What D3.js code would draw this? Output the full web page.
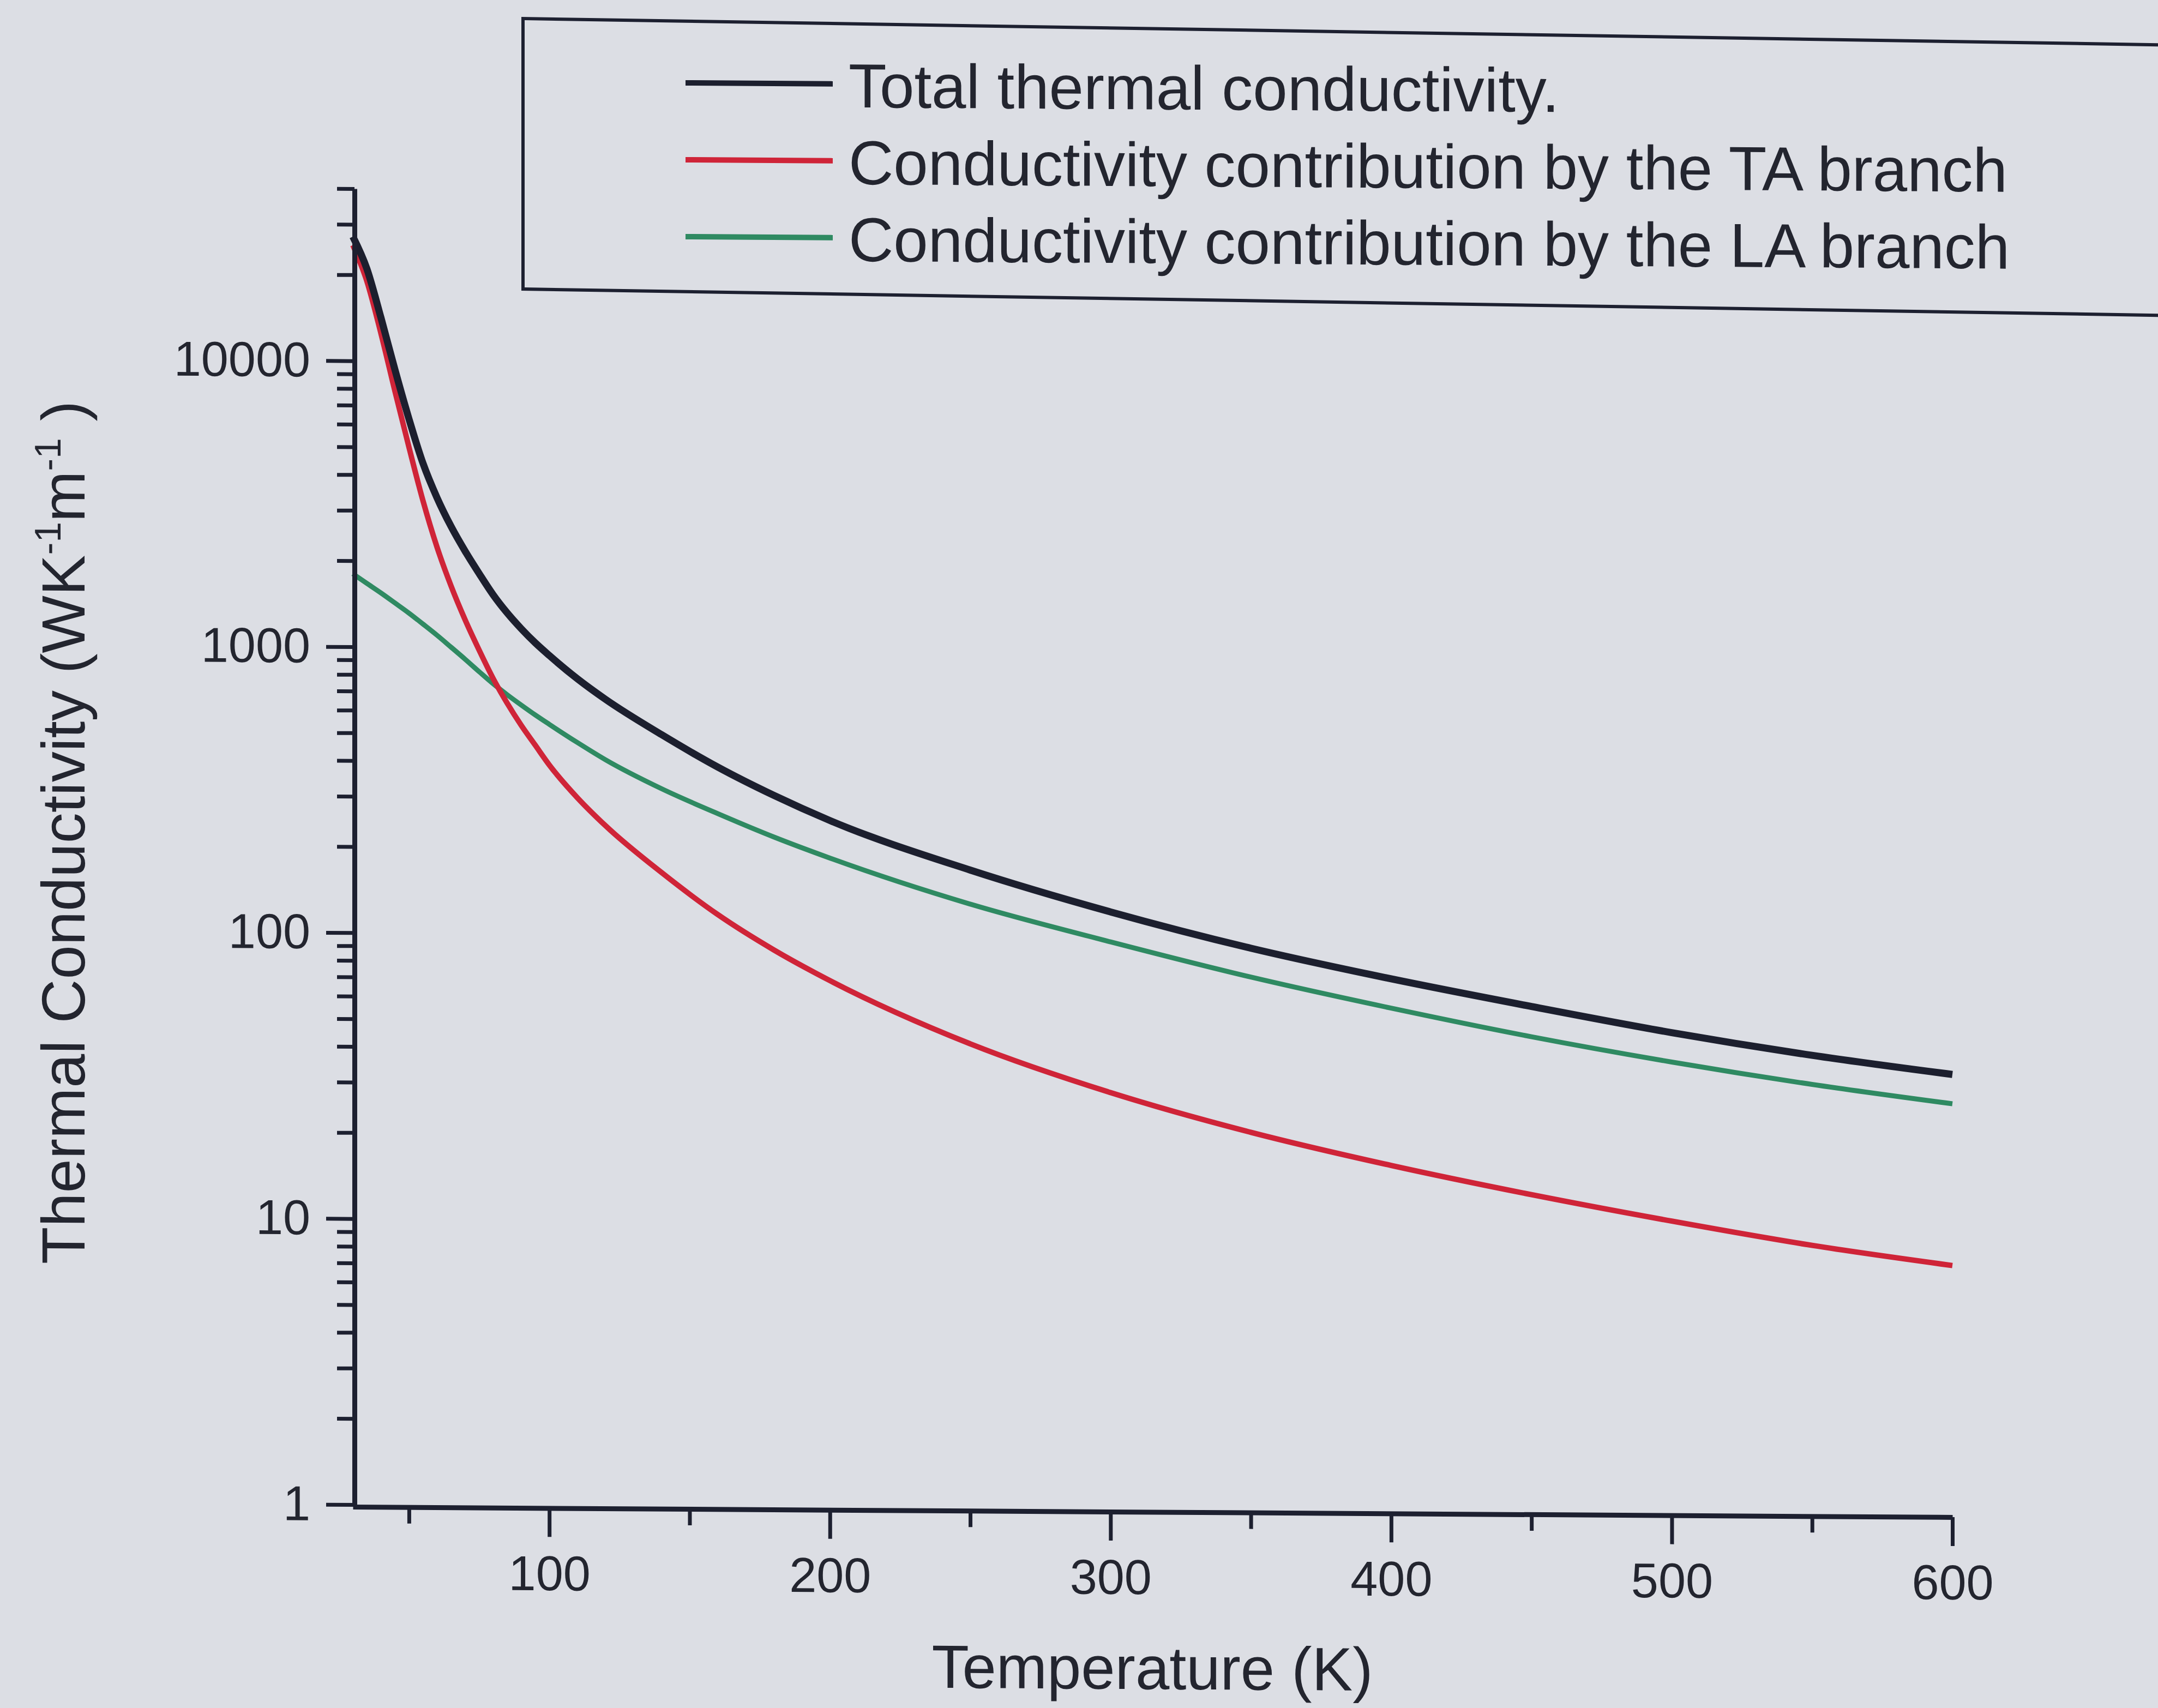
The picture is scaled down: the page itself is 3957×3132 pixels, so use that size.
<!DOCTYPE html>
<html>
<head>
<meta charset="utf-8">
<script src="https://cdnjs.cloudflare.com/ajax/libs/d3/7.8.5/d3.min.js"></script>
<style>
  html, body { margin: 0; padding: 0; background: #dcdee4; }
  svg { display: block; font-family: "Liberation Sans", Arial, sans-serif; }
</style>
</head>
<body>
<div id="chart"></div>
<script>
// values (K, W K^-1 m^-1)
const temperature = [30, 35, 40, 45, 50, 55, 60, 65, 70, 75, 80, 85, 90, 95, 100, 110, 120, 140, 160, 180, 200, 250, 300, 350, 400, 450, 500, 550, 600];
const totalK = [27200, 21000, 14190, 9330, 6280, 4395, 3334, 2649, 2173, 1816, 1531, 1324, 1167, 1042, 942, 782, 664, 501, 387, 309, 253, 171, 123, 92.5, 72.8, 58.7, 47.9, 40.2, 34.7];
const taK = [25400, 19000, 12500, 7850, 5000, 3250, 2240, 1640, 1250, 980, 780, 640, 536, 457, 390, 300, 240, 165, 118, 89, 69.7, 42.2, 28.7, 21.0, 16.2, 12.9, 10.5, 8.7, 7.45];
const laK = [1800, 1667, 1545, 1426, 1315, 1205, 1102, 1002, 910, 824, 748, 685, 631, 583, 541, 468, 408, 324, 266, 221, 187, 130, 96.6, 73.3, 57.5, 46.0, 37.8, 31.8, 27.4];

const xMajorTicks = [100, 200, 300, 400, 500, 600];
const xMinorTicks = [50, 150, 250, 350, 450, 550];
const yMajorTicks = [1, 10, 100, 1000, 10000];

const seriesNames = ['Total thermal conductivity.', 'Conductivity contribution by the TA branch', 'Conductivity contribution by the LA branch'];
const seriesValues = [totalK, taK, laK];
const seriesColors = ['#1c1f2e', '#cf2438', '#2f8a62'];
const seriesWidths = [13, 10, 9];

const W = 3957, H = 3132;
const axisColor = '#1d2030';
const textColor = '#23252f';

const x = d3.scaleLinear().domain([30, 600]).range([647, 3580]);
const y = d3.scaleLog().domain([1, 40000]).range([2759, 346]);

const svg = d3.select('#chart').append('svg')
    .attr('width', W)
    .attr('height', H);

svg.append('rect').attr('width', W).attr('height', H).attr('fill', '#dcdee4');

// the photographed page is a little tilted
const root = svg.append('g')
    .attr('transform', 'translate(647,0) skewY(0.37) translate(-647,0)');

// curves
const line = d3.line()
    .x(d => x(d.t))
    .y(d => y(d.v))
    .curve(d3.curveMonotoneX);

// draw LA, TA, then total on top
[2, 1, 0].forEach(i => {
    const pts = temperature.map((t, j) => ({ t: t, v: seriesValues[i][j] }));
    root.append('path')
        .datum(pts)
        .attr('d', line)
        .attr('fill', 'none')
        .attr('stroke', seriesColors[i])
        .attr('stroke-width', seriesWidths[i])
        .attr('stroke-linejoin', 'round');
});

// y axis
const yMinor = y.ticks().filter(v => !yMajorTicks.includes(v));

root.append('g')
    .attr('transform', 'translate(650,0)')
    .call(d3.axisLeft(y).tickValues(yMinor).tickSize(32).tickSizeOuter(0).tickFormat(''))
    .call(g => g.select('.domain').remove());

const yAxis = root.append('g')
    .attr('transform', 'translate(650,0)')
    .call(d3.axisLeft(y).tickValues(yMajorTicks).tickSize(52).tickSizeOuter(0)
        .tickPadding(29).tickFormat(d3.format('d')));

// x axis
root.append('g')
    .attr('transform', 'translate(0,2763)')
    .call(d3.axisBottom(x).tickValues(xMinorTicks).tickSize(30).tickSizeOuter(0).tickFormat(''))
    .call(g => g.select('.domain').remove());

const xAxis = root.append('g')
    .attr('transform', 'translate(0,2763)')
    .call(d3.axisBottom(x).tickValues(xMajorTicks).tickSize(53).tickSizeOuter(0).tickPadding(34));

root.selectAll('.tick line').attr('stroke', axisColor).attr('stroke-width', 7);
[xAxis, yAxis].forEach(a => {
    a.select('.domain').attr('stroke', axisColor).attr('stroke-width', 9);
    a.selectAll('text')
        .attr('font-size', 90)
        .attr('fill', textColor)
        .attr('font-family', '"Liberation Sans", Arial, sans-serif');
});

// axis titles
root.append('text')
    .attr('x', 2113)
    .attr('y', 3088)
    .attr('text-anchor', 'middle')
    .attr('font-size', 112)
    .attr('fill', textColor)
    .text('Temperature (K)');

const yTitle = root.append('text')
    .attr('transform', 'translate(155,1530) rotate(-90)')
    .attr('text-anchor', 'middle')
    .attr('font-size', 112)
    .attr('fill', textColor);
yTitle.append('tspan').text('Thermal Conductivity (WK');
yTitle.append('tspan').attr('font-size', 68).attr('dy', -44).text('-1');
yTitle.append('tspan').attr('dy', 44).text('m');
yTitle.append('tspan').attr('font-size', 68).attr('dy', -44).text('-1');
yTitle.append('tspan').attr('dy', 44).text(' )');

// legend
const legendBox = root.append('g')
    .attr('transform', 'translate(959,0) skewY(0.55) translate(-959,0)');
legendBox.append('rect')
    .attr('x', 959)
    .attr('y', 32)
    .attr('width', 3300)
    .attr('height', 496)
    .attr('fill', 'none')
    .attr('stroke', axisColor)
    .attr('stroke-width', 6);

const legend = root.append('g');
seriesNames.forEach((name, i) => {
    const ly = 148 + i * 141;
    legend.append('line')
        .attr('x1', 1257)
        .attr('x2', 1527)
        .attr('y1', ly)
        .attr('y2', ly)
        .attr('stroke', seriesColors[i])
        .attr('stroke-width', 10);
    legend.append('text')
        .attr('x', 1556)
        .attr('y', ly + 43)
        .attr('font-size', 114)
        .attr('fill', textColor)
        .text(name);
});
</script>
</body>
</html>
